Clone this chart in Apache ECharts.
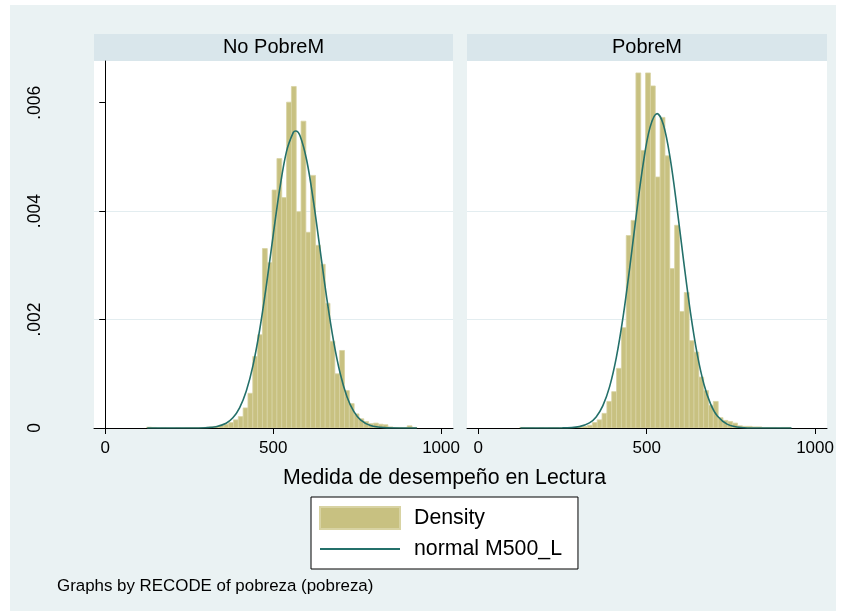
<!DOCTYPE html>
<html><head><meta charset="utf-8">
<script src="https://cdn.jsdelivr.net/npm/echarts@6/dist/echarts.min.js"></script>
<style>html,body{margin:0;padding:0;background:#fff}#c{width:845px;height:616px}</style>
</head><body><div id="c"></div>
<script>
// ---- data ----
const panelTitles = ['No PobreM', 'PobreM'];
const binStart = 123.2;
const binWidth = 14.37;
const densityNoPobre = [0.000015,0.00001,0,0.000003,0,0,0.000003,0,0.000003,0.000005,
  0.000005,0.000008,0.000012,0.00002,0.00003,0.00005,0.00007,0.0001,0.00015,0.00021,
  0.00037,0.00064,0.00132,0.00172,0.00331,0.00305,0.00439,0.00497,0.00425,0.00601,
  0.0063,0.00399,0.00566,0.00361,0.00466,0.00337,0.00302,0.0023,0.0016,0.0010,
  0.00143,0.00069,0.00045,0.00026,0.00017,0.00012,0.00008,0.00009,0.00007,0.00006,
  0.00002,0.00001,0.00001,0.000005,0.00004,0.00001];
const densityPobre = [0.00001,0.000005,0.000005,0,0.000005,0,0.000005,0.000005,0,0.000005,
  0.000008,0.00001,0.00002,0.00003,0.00005,0.0001,0.00015,0.00027,0.00049,0.00067,
  0.0011,0.00185,0.00355,0.00383,0.00655,0.00512,0.00655,0.00631,0.00463,0.00573,
  0.00502,0.00294,0.00374,0.00215,0.0025,0.00161,0.0014,0.00094,0.00069,0.00042,
  0.00049,0.00019,0.00014,0.00012,0.00009,0.00004,0.00003,0.00003,0.00002,0.00002,
  0.00001,0.00001,0.00001,0.000005,0.00001,0.00001];
const normalNoPobreX = [125,250,300,330,360,380,400,420,440,460,480,500,520,540,560,567,580,600,620,640,660,680,700,720,740,760,790,830,880,928];
const normalNoPobreY = [0,0.0000003,0.0000057,0.0000243,0.0000879,0.000188,0.000372,0.000682,0.001156,0.001817,0.002641,0.003554,0.004428,0.005108,0.005454,0.00548,0.005391,0.004934,0.00418,0.003278,0.002379,0.001599,0.000995,0.000573,0.000305,0.000151,0.0000453,0.000007,0.0000004,0];
const normalPobreX = [125,250,300,330,350,370,390,410,430,450,470,490,510,531,550,570,590,610,630,650,670,690,710,740,780,830,930];
const normalPobreY = [0,0.0000018,0.000025,0.000094,0.000205,0.000412,0.000763,0.001302,0.002048,0.00297,0.003968,0.004886,0.005545,0.0058,0.00559,0.004967,0.004066,0.003068,0.002134,0.001367,0.000807,0.00044,0.00022,0.0000673,0.0000104,0.0000006,0];
const xTickValues = [0, 500, 1000];
const yTickValues = [0, 0.002, 0.004, 0.006];
const xTitle = 'Medida de desempeño en Lectura';
const note = 'Graphs by RECODE of pobreza (pobreza)';
const legendNames = ['Density', 'normal M500_L'];

// ---- chart ----
const FONT = '"Liberation Sans", Arial, Helvetica, sans-serif';
const barFill = '#C8C181', barEdge = '#D8D3A3', lineColor = '#24706A';
const bins = arr => arr.map((v, i) => [binStart + i * binWidth, binStart + (i + 1) * binWidth, v]);
const pts = (xs, ys) => xs.map((x, i) => [x, ys[i]]);
const grids = [
  {left: 94, top: 61, width: 359, height: 367},
  {left: 467, top: 61, width: 360, height: 367}
];
const xAxes = grids.map((g, i) => ({
  type: 'value', gridIndex: i, min: -33.5, max: 1035.5,
  axisLine: {show: true, onZero: false, lineStyle: {color: '#000', width: 1}},
  axisTick: {show: true, length: 6, lineStyle: {color: '#000'}, customValues: xTickValues},
  axisLabel: {show: true, customValues: xTickValues, fontSize: 17, fontFamily: FONT, color: '#000', margin: 12,
    formatter: v => String(Math.round(v))},
  splitLine: {show: false}
}));
const yAxes = grids.map((g, i) => ({
  type: 'value', gridIndex: i, min: 0, max: 0.00677,
  axisLine: {show: i === 0, lineStyle: {color: '#000', width: 1}},
  axisTick: {show: i === 0, length: 6, lineStyle: {color: '#000'}, customValues: yTickValues},
  axisLabel: {show: i === 0, customValues: yTickValues, rotate: 90, fontSize: 17.5, fontFamily: FONT, color: '#000', margin: 50,
    formatter: v => v === 0 ? '0' : String(+v.toFixed(3)).replace(/^0/, '')},
  splitLine: {show: true, customValues: yTickValues, showMinLine: false, showMaxLine: false, lineStyle: {color: '#E3EDF0', width: 1}}
}));
function histSeries(arr, idx) {
  return {
    type: 'custom', name: 'Density', xAxisIndex: idx, yAxisIndex: idx, clip: true,
    encode: {x: [0, 1], y: 2},
    itemStyle: {color: barFill},
    data: bins(arr),
    renderItem: (params, api) => {
      const p0 = api.coord([api.value(0), api.value(2)]);
      const p1 = api.coord([api.value(1), 0]);
      return {type: 'rect', shape: {x: p0[0], y: p0[1], width: p1[0] - p0[0], height: p1[1] - p0[1]},
        style: {fill: barFill, stroke: barEdge, lineWidth: 0.8}};
    },
    z: 2
  };
}
function lineSeries(xs, ys, idx) {
  return {type: 'line', name: 'normal M500_L', xAxisIndex: idx, yAxisIndex: idx, data: pts(xs, ys),
    smooth: 0.35, symbol: 'none', lineStyle: {color: lineColor, width: 1.6}, itemStyle: {color: lineColor}, z: 3, silent: true};
}
const graphics = [
  {type: 'rect', shape: {x: 10, y: 5, width: 826, height: 606}, style: {fill: '#EAF2F3'}, z: -10},
  {type: 'rect', shape: {x: 94, y: 34, width: 359, height: 27}, style: {fill: '#D9E6EB'}, z: -5},
  {type: 'rect', shape: {x: 467, y: 34, width: 360, height: 27}, style: {fill: '#D9E6EB'}, z: -5},
  {type: 'rect', shape: {x: 94, y: 61, width: 359, height: 367}, style: {fill: '#FFFFFF'}, z: -5},
  {type: 'rect', shape: {x: 467, y: 61, width: 360, height: 367}, style: {fill: '#FFFFFF'}, z: -5},
  {type: 'text', x: 273.5, y: 47.5, style: {text: panelTitles[0], font: '20px ' + FONT, fill: '#000', align: 'center', verticalAlign: 'middle'}, z: 5},
  {type: 'text', x: 647, y: 47.5, style: {text: panelTitles[1], font: '20px ' + FONT, fill: '#000', align: 'center', verticalAlign: 'middle'}, z: 5},
  {type: 'text', x: 444.5, y: 478, style: {text: xTitle, font: '21.3px ' + FONT, fill: '#000', align: 'center', verticalAlign: 'middle'}, z: 5},
  {type: 'text', x: 57, y: 586, style: {text: note, font: '16.9px ' + FONT, fill: '#000', align: 'left', verticalAlign: 'middle'}, z: 5}
];
const chart = echarts.init(document.getElementById('c'), null, {renderer: 'canvas'});
chart.setOption({
  animation: false,
  backgroundColor: '#FFFFFF',
  grid: grids,
  xAxis: xAxes,
  yAxis: yAxes,
  graphic: graphics,
  legend: {
    left: 311, top: 497, orient: 'vertical', selectedMode: false,
    padding: [9, 16, 9, 8], itemWidth: 80, itemHeight: 22, itemGap: 8,
    backgroundColor: '#FFFFFF', borderColor: '#000', borderWidth: 1,
    textStyle: {fontSize: 21.3, fontFamily: FONT, color: '#000', padding: [0, 0, 0, 9], lineHeight: 22},
    data: [
      {name: legendNames[0], icon: 'rect', itemStyle: {color: barFill, borderColor: barEdge, borderWidth: 2}},
      {name: legendNames[1], icon: 'path://M0,0H80V2H0Z', itemStyle: {color: lineColor, borderWidth: 0}}
    ]
  },
  series: [
    histSeries(densityNoPobre, 0), lineSeries(normalNoPobreX, normalNoPobreY, 0),
    histSeries(densityPobre, 1), lineSeries(normalPobreX, normalPobreY, 1)
  ]
});
</script></body></html>
